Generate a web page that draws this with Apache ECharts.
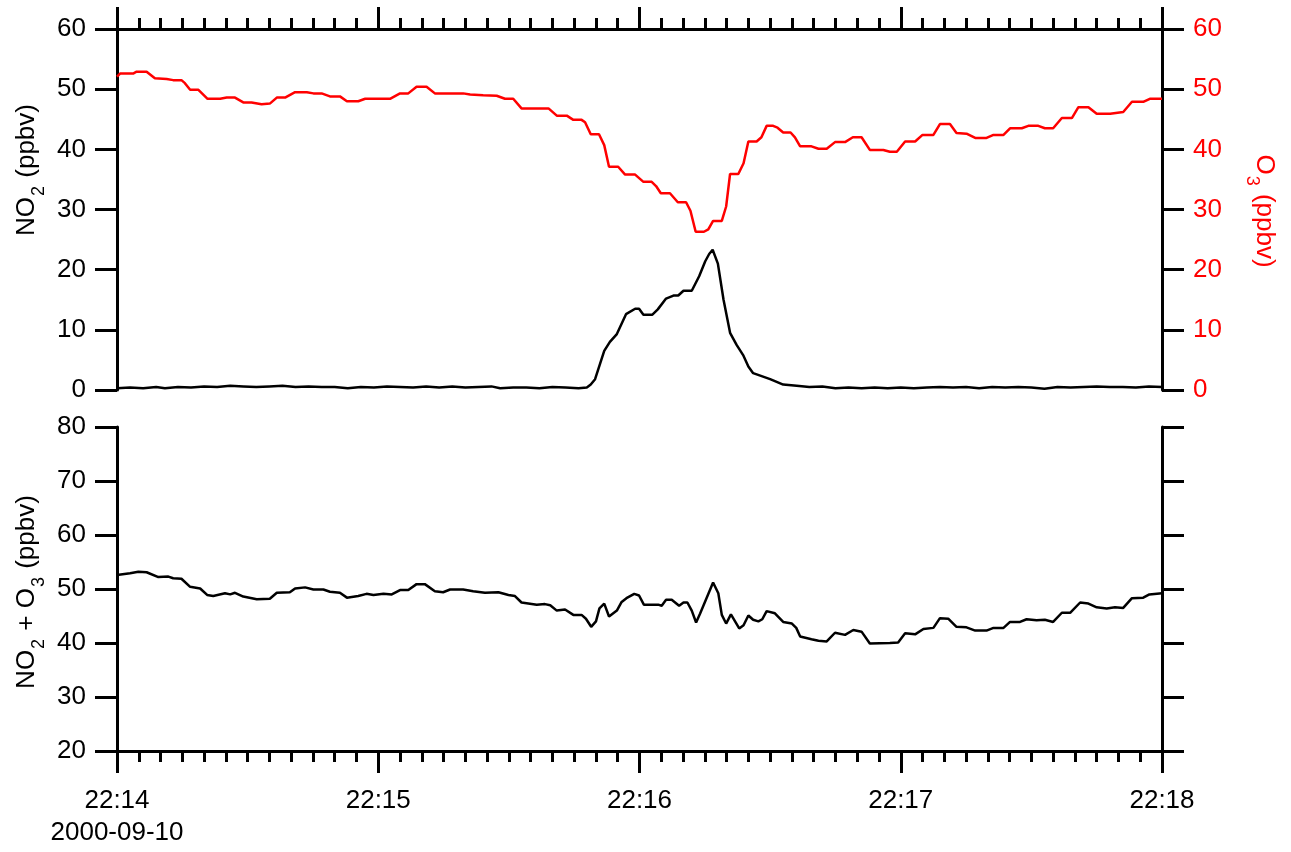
<!DOCTYPE html>
<html>
<head>
<meta charset="utf-8">
<title>NO2 / O3 time series</title>
<script src="https://cdn.jsdelivr.net/npm/echarts@6/dist/echarts.min.js"></script>
<style>
    html, body { margin: 0; padding: 0; background: #fff; }
    #chart { width: 1291px; height: 852px; }
</style>
</head>
<body>
<div id="chart"></div>
<script>
// Time is in seconds after 22:14:00 on 2000-09-10
const startHour = 22;
const startMinute = 14;
const dateLabel = '2000-09-10';

// O3 (ppbv), top panel, right axis
const o3Data = [
    [0, 52.1], [0.7, 52.6], [3.7, 52.6], [4.5, 52.9], [6.8, 52.9], [8.7, 51.8], [11.4, 51.7], [12.9, 51.5],
    [14.8, 51.5], [15.6, 51.0], [16.8, 49.9], [18.7, 49.9], [19.4, 49.4], [20.8, 48.4], [23.7, 48.4], [25.2, 48.6],
    [27.1, 48.6], [29.0, 47.8], [30.9, 47.8], [33.2, 47.5], [35.1, 47.6], [36.7, 48.6], [38.6, 48.6], [40.9, 49.5],
    [43.6, 49.5], [45.1, 49.3], [47.0, 49.3], [48.9, 48.8], [51.2, 48.8], [52.8, 48.0], [55.4, 48.0], [57.0, 48.4],
    [62.7, 48.4], [65.0, 49.3], [66.9, 49.3], [68.8, 50.4], [71.1, 50.4], [73.0, 49.3], [79.5, 49.3], [81.1, 49.1],
    [84.1, 49.0], [87.2, 48.9], [89.1, 48.4], [91.0, 48.4], [92.9, 46.8], [99.1, 46.8], [101.0, 45.6], [103.3, 45.6],
    [104.8, 44.9], [106.7, 44.9], [107.5, 44.5], [108.8, 42.5], [110.7, 42.5], [111.9, 40.7], [113.0, 37.1], [115.1, 37.1],
    [116.7, 35.8], [119.0, 35.8], [120.9, 34.6], [122.8, 34.6], [123.8, 33.9], [124.9, 32.7], [127.0, 32.7], [128.8, 31.2],
    [130.7, 31.2], [131.7, 29.8], [132.9, 26.3], [134.8, 26.3], [135.8, 26.7], [136.9, 28.1], [138.9, 28.1], [139.9, 30.5],
    [140.8, 35.9], [142.7, 35.9], [143.9, 37.7], [145.0, 41.3], [146.9, 41.3], [148.0, 42.0], [149.2, 43.9], [150.7, 43.9],
    [151.7, 43.6], [153.0, 42.8], [154.7, 42.8], [155.7, 42.0], [156.9, 40.5], [159.5, 40.5], [161.1, 40.1], [163.0, 40.1],
    [164.9, 41.2], [167.2, 41.2], [169.0, 42.0], [171.0, 42.0], [172.9, 39.9], [176.0, 39.9], [177.5, 39.6], [179.1, 39.6],
    [181.0, 41.3], [183.3, 41.3], [185.0, 42.4], [187.5, 42.4], [189.0, 44.2], [191.3, 44.2], [192.8, 42.7], [195.1, 42.6],
    [197.1, 41.9], [199.7, 41.9], [201.3, 42.4], [203.6, 42.4], [205.1, 43.5], [207.8, 43.5], [209.3, 43.9], [211.6, 43.9],
    [213.1, 43.5], [215.0, 43.5], [217.0, 45.2], [219.3, 45.2], [220.8, 47.0], [223.1, 47.0], [225.0, 45.9], [228.1, 45.9],
    [231.1, 46.2], [233.1, 47.9], [235.7, 47.9], [237.2, 48.4], [240, 48.4]
];

// NO2 (ppbv), top panel, left axis
const no2Data = [
    [0, 0.3], [3, 0.4], [6, 0.3], [9, 0.5], [11, 0.3], [14, 0.5], [17, 0.4], [20, 0.6], [23, 0.5], [26, 0.7],
    [29, 0.6], [32, 0.5], [35, 0.6], [38, 0.7], [41, 0.5], [44, 0.6], [47, 0.5], [50, 0.5], [53, 0.3], [56, 0.5],
    [59, 0.4], [62, 0.6], [65, 0.5], [68, 0.4], [71, 0.6], [74, 0.4], [77, 0.6], [80, 0.4], [83, 0.5], [86, 0.6],
    [88, 0.3], [91, 0.4], [94, 0.4], [97, 0.3], [100, 0.5], [103, 0.4], [106, 0.3], [107.9, 0.4], [108.8, 0.9],
    [109.8, 1.8], [111.9, 6.5], [113.2, 8.0], [114.8, 9.3], [116.9, 12.6], [119.0, 13.5], [119.9, 13.5], [120.9, 12.5],
    [122.9, 12.5], [124.2, 13.4], [126.1, 15.2], [127.8, 15.7], [128.9, 15.7], [130.1, 16.5], [132.0, 16.5], [133.7, 18.9],
    [135.1, 21.4], [136.0, 22.6], [136.8, 23.3], [138.0, 21.0], [139.3, 15.0], [140.8, 9.5], [142.3, 7.5], [143.8, 5.8],
    [145.0, 3.9], [146.1, 2.8], [150.0, 1.8], [153.0, 0.9], [156.1, 0.7], [159, 0.5], [162, 0.6], [165, 0.3],
    [168, 0.4], [171, 0.3], [174, 0.4], [177, 0.3], [180, 0.4], [183, 0.3], [186, 0.4], [189, 0.5], [192, 0.4],
    [195, 0.5], [198, 0.3], [201, 0.5], [204, 0.4], [207, 0.5], [210, 0.4], [213, 0.2], [216, 0.5], [219, 0.4],
    [222, 0.5], [225, 0.6], [228, 0.5], [231, 0.5], [234, 0.4], [237, 0.6], [240, 0.5]
];

// NO2 + O3 (ppbv), bottom panel
const oxData = [
    [0, 52.6], [3.0, 52.9], [4.9, 53.2], [6.8, 53.1], [9.5, 52.2], [11.8, 52.3], [12.9, 52.0], [14.8, 51.9],
    [16.8, 50.4], [19.1, 50.1], [20.7, 48.9], [22.1, 48.7], [24.8, 49.2], [26.0, 49.0], [27.1, 49.3], [29.0, 48.6],
    [32.1, 48.1], [35.1, 48.2], [36.7, 49.3], [39.7, 49.4], [40.9, 50.1], [43.2, 50.3], [45.1, 49.9], [47.4, 49.9],
    [48.9, 49.5], [51.2, 49.3], [52.8, 48.4], [55.4, 48.7], [57.3, 49.1], [58.9, 48.9], [61.2, 49.1], [63.1, 49.0],
    [65.0, 49.8], [66.9, 49.8], [68.8, 50.9], [70.7, 50.9], [73.0, 49.6], [74.9, 49.4], [76.5, 49.9], [79.5, 49.9],
    [81.8, 49.6], [84.5, 49.3], [87.6, 49.4], [89.9, 48.9], [91.4, 48.7], [92.9, 47.5], [96.4, 47.1], [98.3, 47.2],
    [99.5, 47.0], [101.0, 46.0], [102.9, 46.2], [104.8, 45.2], [106.7, 45.2], [107.7, 44.5], [108.9, 43.0], [110.0, 44.0],
    [110.8, 46.4], [111.9, 47.3], [113.0, 44.9], [114.8, 46.0], [115.9, 47.6], [117.0, 48.3], [118.8, 49.1], [119.9, 48.8],
    [121.0, 47.1], [124.3, 47.1], [125.1, 46.9], [126.1, 48.0], [127.4, 48.0], [129.1, 46.9], [130.1, 47.5], [131.0, 47.5],
    [132.0, 46.0], [133.0, 43.8], [133.9, 45.4], [136.9, 51.2], [138.1, 49.2], [138.9, 45.2], [139.9, 43.6], [141.0, 45.3],
    [142.9, 42.7], [143.9, 43.3], [145.0, 45.1], [146.1, 44.3], [147.3, 44.0], [148.2, 44.4], [149.2, 45.9], [151.1, 45.5],
    [153.0, 43.9], [155.0, 43.6], [156.0, 42.8], [156.9, 41.2], [159.5, 40.7], [161.1, 40.4], [163.0, 40.3], [164.9, 41.9],
    [167.2, 41.5], [169.1, 42.4], [171.0, 42.1], [172.9, 39.9], [177.5, 40.0], [179.4, 40.1], [181.0, 41.8], [183.3, 41.6],
    [185.2, 42.6], [187.5, 42.8], [189.0, 44.6], [190.9, 44.5], [192.8, 43.0], [195.1, 42.9], [197.1, 42.3], [199.7, 42.3],
    [201.3, 42.8], [203.6, 42.8], [205.1, 43.9], [207.4, 43.9], [208.9, 44.4], [211.2, 44.2], [213.1, 44.3], [215.0, 43.9],
    [217.0, 45.6], [218.9, 45.6], [221.2, 47.5], [223.1, 47.3], [225.0, 46.6], [227.3, 46.4], [229.2, 46.6], [231.1, 46.5],
    [233.1, 48.3], [235.7, 48.4], [237.1, 49.0], [240, 49.2]
];

// ============================================
// Chart
// ============================================
const FONT = '"Liberation Sans", Arial, Helvetica, sans-serif';
const TICK_FS = 26;
const TITLE_FS = 26;
const RED = '#ff0000';

const lineAxis = { show: true, onZero: false, lineStyle: { color: '#000', width: 3 } };
const majorTick = { show: true, inside: false, length: 22, lineStyle: { color: '#000', width: 3 } };

function timeLabel(sec) {
    const m = startMinute + Math.round(sec / 60);
    const label = startHour + ':' + String(m).padStart(2, '0');
    return sec === 0 ? label + '\n' + dateLabel : label;
}

function yAxisOpt(gridIndex, position, min, max, labelColor) {
    return {
        type: 'value',
        gridIndex,
        position,
        min,
        max,
        interval: 10,
        axisLine: lineAxis,
        axisTick: majorTick,
        splitLine: { show: false },
        axisLabel: {
            show: !!labelColor,
            color: labelColor,
            fontFamily: FONT,
            fontSize: TICK_FS,
            margin: 31
        }
    };
}

function xAxisOpt(gridIndex, position, showLabels) {
    return {
        type: 'value',
        gridIndex,
        position,
        min: 0,
        max: 240,
        interval: 60,
        axisLine: lineAxis,
        axisTick: majorTick,
        minorTick: { show: true, splitNumber: 12, length: 11, lineStyle: { color: '#000', width: 3 } },
        splitLine: { show: false },
        minorSplitLine: { show: false },
        axisLabel: {
            show: showLabels,
            color: '#000',
            fontFamily: FONT,
            fontSize: TICK_FS,
            lineHeight: 32,
            margin: 34,
            formatter: timeLabel
        }
    };
}

// rotated axis titles with subscripts
function subTitle(x, y, rot, text, color) {
    return {
        type: 'text',
        x, y,
        rotation: rot,
        style: {
            text,
            align: 'center',
            verticalAlign: 'middle',
            fill: color,
            rich: {
                n: { fontSize: TITLE_FS, fontFamily: FONT, fill: color, lineHeight: 30 },
                s: { fontSize: 18, fontFamily: FONT, fill: color, lineHeight: 30, verticalAlign: 'bottom', padding: [0, 1, -6, 1] }
            }
        }
    };
}

const chart = echarts.init(document.getElementById('chart'));

chart.setOption({
    animation: false,
    backgroundColor: '#fff',
    grid: [
        { left: 117, right: 129, top: 29, height: 361 },
        { left: 117, right: 129, top: 427, height: 324 }
    ],
    xAxis: [
        xAxisOpt(0, 'top', false),
        xAxisOpt(1, 'bottom', true)
    ],
    yAxis: [
        yAxisOpt(0, 'left', 0, 60, '#000'),
        yAxisOpt(0, 'right', 0, 60, RED),
        yAxisOpt(1, 'left', 20, 80, '#000'),
        yAxisOpt(1, 'right', 20, 80, null)
    ],
    series: [
        {
            name: 'O3', type: 'line', xAxisIndex: 0, yAxisIndex: 1, data: o3Data,
            showSymbol: false, color: RED, lineStyle: { color: RED, width: 2.5 }
        },
        {
            name: 'NO2', type: 'line', xAxisIndex: 0, yAxisIndex: 0, data: no2Data,
            showSymbol: false, color: '#000', lineStyle: { color: '#000', width: 2.5 }
        },
        {
            name: 'NO2 + O3', type: 'line', xAxisIndex: 1, yAxisIndex: 2, data: oxData,
            showSymbol: false, color: '#000', lineStyle: { color: '#000', width: 2.5 }
        }
    ],
    graphic: [
        subTitle(27, 170, Math.PI / 2, '{n|NO}{s|2}{n| (ppbv)}', '#000'),
        subTitle(27, 592, Math.PI / 2, '{n|NO}{s|2}{n| + O}{s|3}{n| (ppbv)}', '#000'),
        subTitle(1264, 211, -Math.PI / 2, '{n|O}{s|3}{n| (ppbv)}', RED)
    ]
});
</script>
</body>
</html>
